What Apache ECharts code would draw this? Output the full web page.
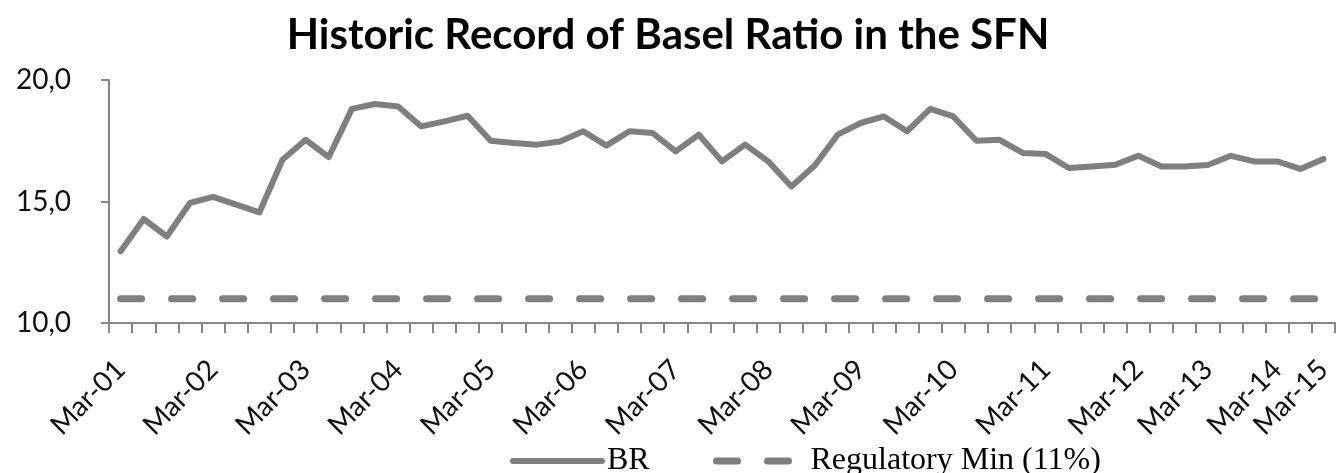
<!DOCTYPE html>
<html>
<head>
<meta charset="utf-8">
<title>Historic Record of Basel Ratio in the SFN</title>
<script src="https://cdn.jsdelivr.net/npm/echarts@6/dist/echarts.min.js"></script>
<style>
  html, body { margin: 0; padding: 0; background: #fff; }
  #chart { width: 1336px; height: 473px; }
</style>
</head>
<body>
<div id="chart"></div>
<script>
// x axis categories (quarterly, only the March of each year is labelled)
const categories = [
  'Mar-01', '', '', '',
  'Mar-02', '', '', '',
  'Mar-03', '', '', '',
  'Mar-04', '', '', '',
  'Mar-05', '', '', '',
  'Mar-06', '', '', '',
  'Mar-07', '', '', '',
  'Mar-08', '', '', '',
  'Mar-09', '', '', '',
  'Mar-10', '', '', '',
  'Mar-11', '', '', '',
  'Mar-12', '', '',
  'Mar-13', '', '',
  'Mar-14', '',
  'Mar-15'
];

// Basel ratio (BR)
const brValues = [
  12.95, 14.28, 13.56, 14.94,
  15.19, 14.87, 14.55, 16.72,
  17.54, 16.83, 18.81, 19.01,
  18.91, 18.09, 18.30, 18.53,
  17.50, 17.41, 17.34, 17.47,
  17.89, 17.30, 17.89, 17.82,
  17.06, 17.75, 16.65, 17.34,
  16.65, 15.62, 16.47, 17.75,
  18.23, 18.50, 17.89, 18.81,
  18.50, 17.50, 17.54, 17.00,
  16.95, 16.38, 16.44, 16.51,
  16.88, 16.44, 16.44,
  16.50, 16.88, 16.65,
  16.65, 16.34,
  16.75
];

// regulatory minimum (11%)
const regMinValues = [
  11, 11, 11, 11, 11, 11, 11, 11, 11, 11,
  11, 11, 11, 11, 11, 11, 11, 11, 11, 11,
  11, 11, 11, 11, 11, 11, 11, 11, 11, 11,
  11, 11, 11, 11, 11, 11, 11, 11, 11, 11,
  11, 11, 11, 11, 11, 11, 11, 11, 11, 11,
  11, 11, 11
];

const yTicks = { min: 10, max: 20, step: 5 };

const chart = echarts.init(document.getElementById('chart'));

const gray = '#7f7f7f';
const axisGray = '#868686';

// legend entry, one per series so each can be placed on its own
function legendItem(name, left, width) {
  return {
    data: [name],
    left: left,
    top: 440,
    itemWidth: 89,
    itemHeight: 14,
    itemGap: 0,
    itemStyle: { opacity: 0 },
    lineStyle: { width: width, cap: 'round' },
    textStyle: { fontFamily: 'Liberation Serif', fontSize: 32, color: '#000' }
  };
}

const option = {
  backgroundColor: '#fff',
  animation: false,
  title: {
    text: 'Historic Record of Basel Ratio in the SFN',
    left: 'center',
    top: 9,
    textStyle: {
      fontFamily: 'Lato',
      fontWeight: 'bold',
      fontSize: 42,
      color: '#000'
    }
  },
  legend: [
    legendItem('BR', 505, 6),
    legendItem('Regulatory Min (11%)', 708, 7)
  ],
  grid: {
    left: 109,
    right: 1,
    top: 80,
    bottom: 150
  },
  xAxis: {
    type: 'category',
    data: categories,
    boundaryGap: true,
    axisLine: { lineStyle: { color: axisGray, width: 2 } },
    axisTick: { show: true, interval: 0, length: 10, lineStyle: { color: axisGray, width: 2 } },
    axisLabel: {
      interval: 0,
      rotate: 45,
      margin: 42,
      fontFamily: 'Lato',
      fontSize: 28,
      color: '#111'
    },
    splitLine: { show: false }
  },
  yAxis: {
    type: 'value',
    min: yTicks.min,
    max: yTicks.max,
    interval: yTicks.step,
    axisLine: { show: true, lineStyle: { color: axisGray, width: 2 } },
    axisTick: { show: true, length: 8, lineStyle: { color: axisGray, width: 2 } },
    axisLabel: {
      margin: 38,
      fontFamily: 'Lato',
      fontSize: 28,
      color: '#111',
      formatter: v => v.toFixed(1).replace('.', ',')
    },
    splitLine: { show: false }
  },
  series: [{
    name: 'BR',
    type: 'line',
    data: brValues,
    symbol: 'none',
    color: gray,
    lineStyle: { color: gray, width: 6, join: 'round', cap: 'round' }
  }, {
    name: 'Regulatory Min (11%)',
    type: 'line',
    data: regMinValues,
    symbol: 'none',
    color: gray,
    lineStyle: { color: gray, width: 7, type: [21, 30], cap: 'round' }
  }]
};

chart.setOption(option);

window.addEventListener('resize', function() {
  chart.resize();
});
</script>
</body>
</html>
